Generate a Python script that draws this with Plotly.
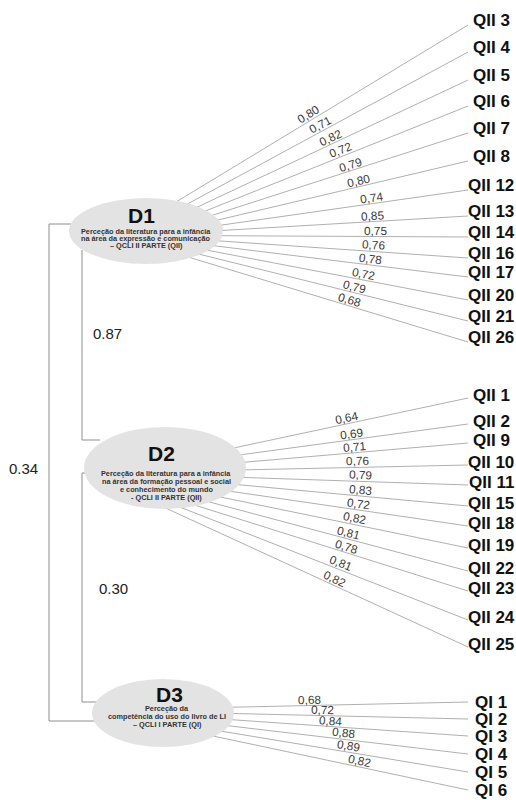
import numpy as np
import plotly.graph_objects as go

# ---------------- data ----------------
d1_items = ["QII 3", "QII 4", "QII 5", "QII 6", "QII 7", "QII 8", "QII 12",
            "QII 13", "QII 14", "QII 16", "QII 17", "QII 20", "QII 21", "QII 26"]
d1_loadings = [0.80, 0.71, 0.82, 0.72, 0.79, 0.80, 0.74, 0.85, 0.75, 0.76, 0.78, 0.72, 0.79, 0.68]

d2_items = ["QII 1", "QII 2", "QII 9", "QII 10", "QII 11", "QII 15", "QII 18",
            "QII 19", "QII 22", "QII 23", "QII 24", "QII 25"]
d2_loadings = [0.64, 0.69, 0.71, 0.76, 0.79, 0.83, 0.72, 0.82, 0.81, 0.78, 0.81, 0.82]

d3_items = ["QI 1", "QI 2", "QI 3", "QI 4", "QI 5", "QI 6"]
d3_loadings = [0.68, 0.72, 0.84, 0.88, 0.89, 0.82]

factor_names = ["D1", "D2", "D3"]
factor_desc = [
    ["Perceção da literatura para a infância", "na área da expressão e comunicação", "– QCLI II PARTE (QII)"],
    ["Perceção da literatura para a infância", "na área da formação pessoal e social",
     "e conhecimento do mundo", "- QCLI II PARTE (QII)"],
    ["Perceção da", "competência do uso do livro de LI", "– QCLI I PARTE (QI)"],
]
corr_d1_d2 = 0.87
corr_d2_d3 = 0.30
corr_d1_d3 = 0.34

# ---------------- layout (diagram geometry) ----------------
W, H = 516, 800
groups = [
    dict(items=d1_items, loads=d1_loadings, cx=146, cy=231, rx=77, ry=33,
         a0=66, a1=-55, d_x=141, d_y=215, sub_x=146, sub_y=231, sub_dy=7,
         item_y=[20, 47, 75, 101, 128, 156, 185, 211, 232, 253, 272, 295, 316, 337],
         end_dy=5,
         lab_x=[312, 323, 333, 343, 352, 360, 372, 373, 375, 373, 370, 362, 353, 348]),
    dict(items=d2_items, loads=d2_loadings, cx=165, cy=468, rx=81, ry=41,
         a0=30, a1=-90, d_x=161, d_y=453, sub_x=166, sub_y=473, sub_dy=8.3,
         item_y=[395, 421, 440, 462, 482, 503, 523, 545, 568, 588, 617, 644],
         end_dy=3,
         lab_x=[348, 352, 355, 358, 360, 360, 358, 353, 347, 345, 338, 332]),
    dict(items=d3_items, loads=d3_loadings, cx=163, cy=713, rx=71, ry=34,
         a0=10, a1=-44, d_x=169, d_y=694, sub_x=167, sub_y=708, sub_dy=8,
         item_y=[702, 719, 736, 754, 772, 790],
         end_dy=0,
         lab_x=[310, 322, 330, 343, 348, 358]),
]
ITEM_X = 491
LINE_END_X = 468

fig = go.Figure()
annotations = []
shapes = []

for gi, g in enumerate(groups):
    n = len(g["items"])
    angles = np.radians(np.linspace(g["a0"], g["a1"], n))
    xs, ys = [], []
    for i in range(n):
        sx = g["cx"] + 0.97 * g["rx"] * np.cos(angles[i])
        sy = g["cy"] - 0.97 * g["ry"] * np.sin(angles[i])
        ex = LINE_END_X
        ey = g["item_y"][i] + g["end_dy"]
        xs += [sx, ex, None]
        ys += [sy, ey, None]
        # loading label along the line
        dx, dy = ex - sx, ey - sy
        L = np.hypot(dx, dy)
        ux, uy = dx / L, dy / L
        lx = g["lab_x"][i]
        t = (lx - sx) / dx
        ly = sy + t * dy
        nx, ny = uy, -ux  # upward normal
        off = 6
        annotations.append(dict(
            x=lx + nx * off, y=ly + ny * off, text=f"{g['loads'][i]:.2f}".replace(".", ","),
            showarrow=False, textangle=np.degrees(np.arctan2(dy, dx)),
            font=dict(family="Liberation Sans, Arial", size=11.8, color="#3a3a3a"),
            xanchor="center", yanchor="middle"))
        annotations.append(dict(
            x=ITEM_X, y=g["item_y"][i], text=f"<b>{g['items'][i]}</b>", showarrow=False,
            font=dict(family="Liberation Sans, Arial", size=17, color="#111111"),
            xanchor="center", yanchor="middle"))
    fig.add_trace(go.Scatter(x=xs, y=ys, mode="lines",
                             line=dict(color="#b0b0b0", width=1),
                             hoverinfo="skip", showlegend=False))
    # ellipse
    shapes.append(dict(type="circle", xref="x", yref="y",
                       x0=g["cx"] - g["rx"], x1=g["cx"] + g["rx"],
                       y0=g["cy"] - g["ry"], y1=g["cy"] + g["ry"],
                       fillcolor="#e3e3e3", line=dict(width=0), layer="above"))
    annotations.append(dict(x=g["d_x"], y=g["d_y"], text=f"<b>{factor_names[gi]}</b>",
                            showarrow=False, xanchor="center", yanchor="middle",
                            font=dict(family="Liberation Sans, Arial", size=21, color="#111111")))
    for k, line in enumerate(factor_desc[gi]):
        annotations.append(dict(x=g["sub_x"], y=g["sub_y"] + k * g["sub_dy"], text=f"<b>{line}</b>",
                                showarrow=False, xanchor="center", yanchor="middle",
                                font=dict(family="Liberation Sans, Arial", size=7.3, color="#333333")))

# correlation brackets
bx, by = [], []
# D1 - D3 (outer)
bx += [72, 49, 49, 96, None]
by += [224, 224, 721, 721, None]
# D1 - D2
bx += [82, 82, 100, None]
by += [250, 440, 440, None]
# D2 - D3
bx += [92, 82, 82, 100, None]
by += [473, 473, 702, 702, None]
fig.add_trace(go.Scatter(x=bx, y=by, mode="lines", line=dict(color="#8f8f8f", width=1),
                         hoverinfo="skip", showlegend=False))

corr_font = dict(family="Liberation Sans, Arial", size=15, color="#222222")
annotations.append(dict(x=23, y=468, text=f"{corr_d1_d3:.2f}", showarrow=False, font=corr_font))
annotations.append(dict(x=107, y=333, text=f"{corr_d1_d2:.2f}", showarrow=False, font=corr_font))
annotations.append(dict(x=113, y=588, text=f"{corr_d2_d3:.2f}", showarrow=False, font=corr_font))

fig.update_layout(
    width=W, height=H, margin=dict(l=0, r=0, t=0, b=0),
    paper_bgcolor="white", plot_bgcolor="white",
    xaxis=dict(range=[0, W], visible=False, fixedrange=True),
    yaxis=dict(range=[H, 0], visible=False, fixedrange=True),
    annotations=annotations, shapes=shapes, showlegend=False,
)
fig.write_html("out.html", config={"displayModeBar": False},
               post_script="document.body.style.margin='0';document.body.style.overflow='hidden';")
